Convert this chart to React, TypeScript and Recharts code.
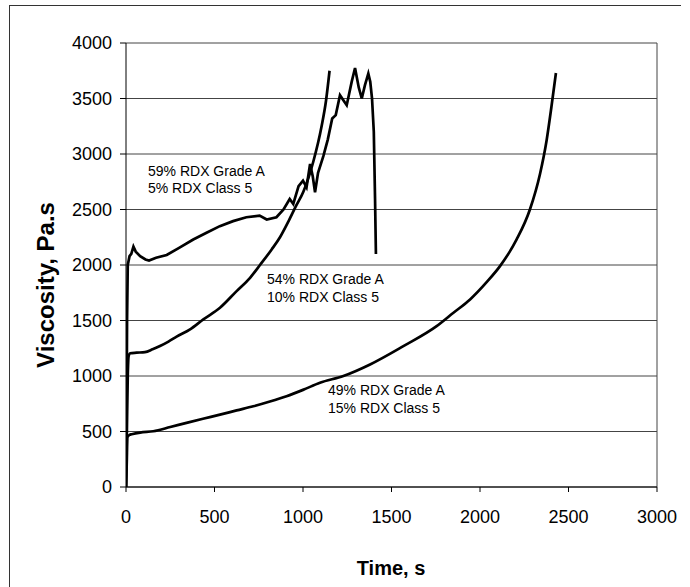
import React from "react";
import {
  LineChart,
  Line,
  XAxis,
  YAxis,
  CartesianGrid,
  ReferenceLine,
} from "recharts";

// 59% RDX Grade A / 5% RDX Class 5
const timeA = [0, 3, 6, 10, 20, 30, 42, 55, 80, 110, 130, 170, 230, 300, 380, 455, 530, 605, 680, 755, 795, 850, 890, 925, 945, 975, 1000, 1020, 1040, 1055, 1068, 1085, 1115, 1140, 1165, 1185, 1209, 1230, 1247, 1275, 1294, 1315, 1332, 1350, 1369, 1380, 1390, 1400, 1407, 1412];
const viscA = [0, 600, 1500, 2000, 2080, 2100, 2165, 2120, 2080, 2050, 2040, 2065, 2090, 2155, 2230, 2290, 2350, 2395, 2430, 2445, 2410, 2430, 2500, 2595, 2550, 2710, 2760, 2700, 2910, 2800, 2655, 2830, 2980, 3130, 3320, 3350, 3530, 3480, 3440, 3650, 3775, 3600, 3500, 3620, 3725, 3650, 3500, 3200, 2600, 2100];

// 54% RDX Grade A / 10% RDX Class 5
const timeB = [0, 5, 10, 15, 23, 60, 107, 150, 192, 240, 286, 362, 437, 531, 625, 701, 757, 823, 870, 920, 960, 1002, 1058, 1105, 1130, 1150];
const viscB = [0, 500, 1000, 1180, 1205, 1210, 1215, 1240, 1270, 1310, 1355, 1420, 1510, 1615, 1765, 1885, 2000, 2140, 2250, 2400, 2530, 2660, 2930, 3250, 3480, 3750];

// 49% RDX Grade A / 15% RDX Class 5
const timeC = [0, 4, 8, 20, 32, 80, 154, 250, 342, 435, 531, 625, 719, 813, 907, 1000, 1096, 1228, 1379, 1567, 1755, 1850, 1944, 2040, 2113, 2207, 2282, 2339, 2376, 2404, 2429];
const viscC = [0, 200, 450, 470, 475, 490, 502, 540, 578, 615, 652, 690, 727, 770, 818, 875, 939, 1000, 1104, 1269, 1449, 1570, 1690, 1850, 1990, 2230, 2500, 2820, 3120, 3430, 3730];

const xTicks = [0, 500, 1000, 1500, 2000, 2500, 3000];
const yTicks = [0, 500, 1000, 1500, 2000, 2500, 3000, 3500, 4000];

const toPoints = (ts: number[], vs: number[]) => ts.map((t, i) => ({ t, v: vs[i] }));

const seriesA = toPoints(timeA, viscA);
const seriesB = toPoints(timeB, viscB);
const seriesC = toPoints(timeC, viscC);

const FONT = "'Liberation Sans', Arial, sans-serif";

export default function App() {
  return (
    <div
      style={{
        position: "absolute",
        left: 0,
        top: 0,
        width: 690,
        height: 587,
        background: "#fff",
        fontFamily: FONT,
        overflow: "hidden",
      }}
    >
      {/* outer frame */}
      <div
        style={{
          position: "absolute",
          left: 9,
          top: 5,
          width: 671,
          height: 600,
          borderLeft: "1px solid #333",
          borderTop: "1px solid #333",
        }}
      />
      <LineChart
        width={690}
        height={587}
        margin={{ top: 43, right: 33, bottom: 50, left: 66 }}
      >
        <CartesianGrid horizontal vertical={false} stroke="#444" strokeWidth={1} />
        <XAxis
          type="number"
          dataKey="t"
          domain={[0, 3000]}
          ticks={xTicks}
          allowDataOverflow
          height={50}
          tickSize={5}
          tickMargin={18}
          axisLine={{ stroke: "#000" }}
          tickLine={{ stroke: "#000" }}
          tick={{ fill: "#000", fontSize: 18, fontFamily: FONT }}
        />
        <YAxis
          type="number"
          dataKey="v"
          domain={[0, 4000]}
          ticks={yTicks}
          width={60}
          tickSize={6}
          tickMargin={8}
          axisLine={{ stroke: "#000" }}
          tickLine={{ stroke: "#000" }}
          tick={{ fill: "#000", fontSize: 18, fontFamily: FONT }}
        />
        <ReferenceLine x={3000} stroke="#444" />
        <Line
          data={seriesA}
          dataKey="v"
          type="linear"
          stroke="#000"
          strokeWidth={2.7}
          dot={false}
          isAnimationActive={false}
        />
        <Line
          data={seriesB}
          dataKey="v"
          type="monotone"
          stroke="#000"
          strokeWidth={2.7}
          dot={false}
          isAnimationActive={false}
        />
        <Line
          data={seriesC}
          dataKey="v"
          type="monotone"
          stroke="#000"
          strokeWidth={2.7}
          dot={false}
          isAnimationActive={false}
        />
      </LineChart>
      <svg
        width={690}
        height={587}
        style={{ position: "absolute", left: 0, top: 0, pointerEvents: "none" }}
        fontFamily={FONT}
      >
        <text x={148} y={175.5} fontSize={14} fill="#000">59% RDX Grade A</text>
        <text x={148} y={193} fontSize={14} fill="#000">5% RDX Class 5</text>
        <text x={267} y={284} fontSize={14} fill="#000">54% RDX Grade A</text>
        <text x={267} y={302} fontSize={14} fill="#000">10% RDX Class 5</text>
        <text x={328} y={394.5} fontSize={14} fill="#000">49% RDX Grade A</text>
        <text x={328} y={412.5} fontSize={14} fill="#000">15% RDX Class 5</text>
        <text x={391} y={575} fontSize={20} fontWeight="bold" textAnchor="middle" fill="#000">
          Time, s
        </text>
        <text
          x={45}
          y={285}
          fontSize={24}
          fontWeight="bold"
          textAnchor="middle"
          dominantBaseline="central"
          transform="rotate(-90 45 285)"
          fill="#000"
        >
          Viscosity, Pa.s
        </text>
      </svg>
    </div>
  );
}
